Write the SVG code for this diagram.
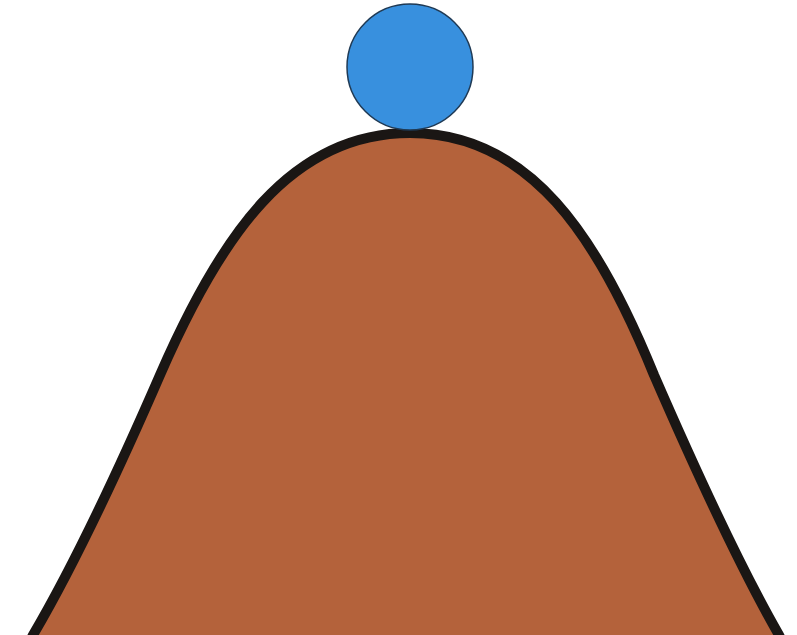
<svg xmlns="http://www.w3.org/2000/svg" width="797" height="635" viewBox="0 0 797 635">
<style>
.hill{fill:#b4623b;stroke:#1a1614;stroke-width:10;stroke-linejoin:round}
.ball{fill:#3890de;stroke:#1f3a55;stroke-width:1.5}
</style>
<rect width="797" height="635" fill="#ffffff"/>
<g id="hill">
<path class="hill" d="M 30,641 L 33,635 C 73,567 120,467 160,375 C 220,237 290,133 410,133 C 530,133 598,237 654,375 C 694,467 740,567 779,635 L 782,641 Z"/>
</g>
<g id="ball">
<circle class="ball" cx="410" cy="67" r="63"/>
</g>
</svg>
